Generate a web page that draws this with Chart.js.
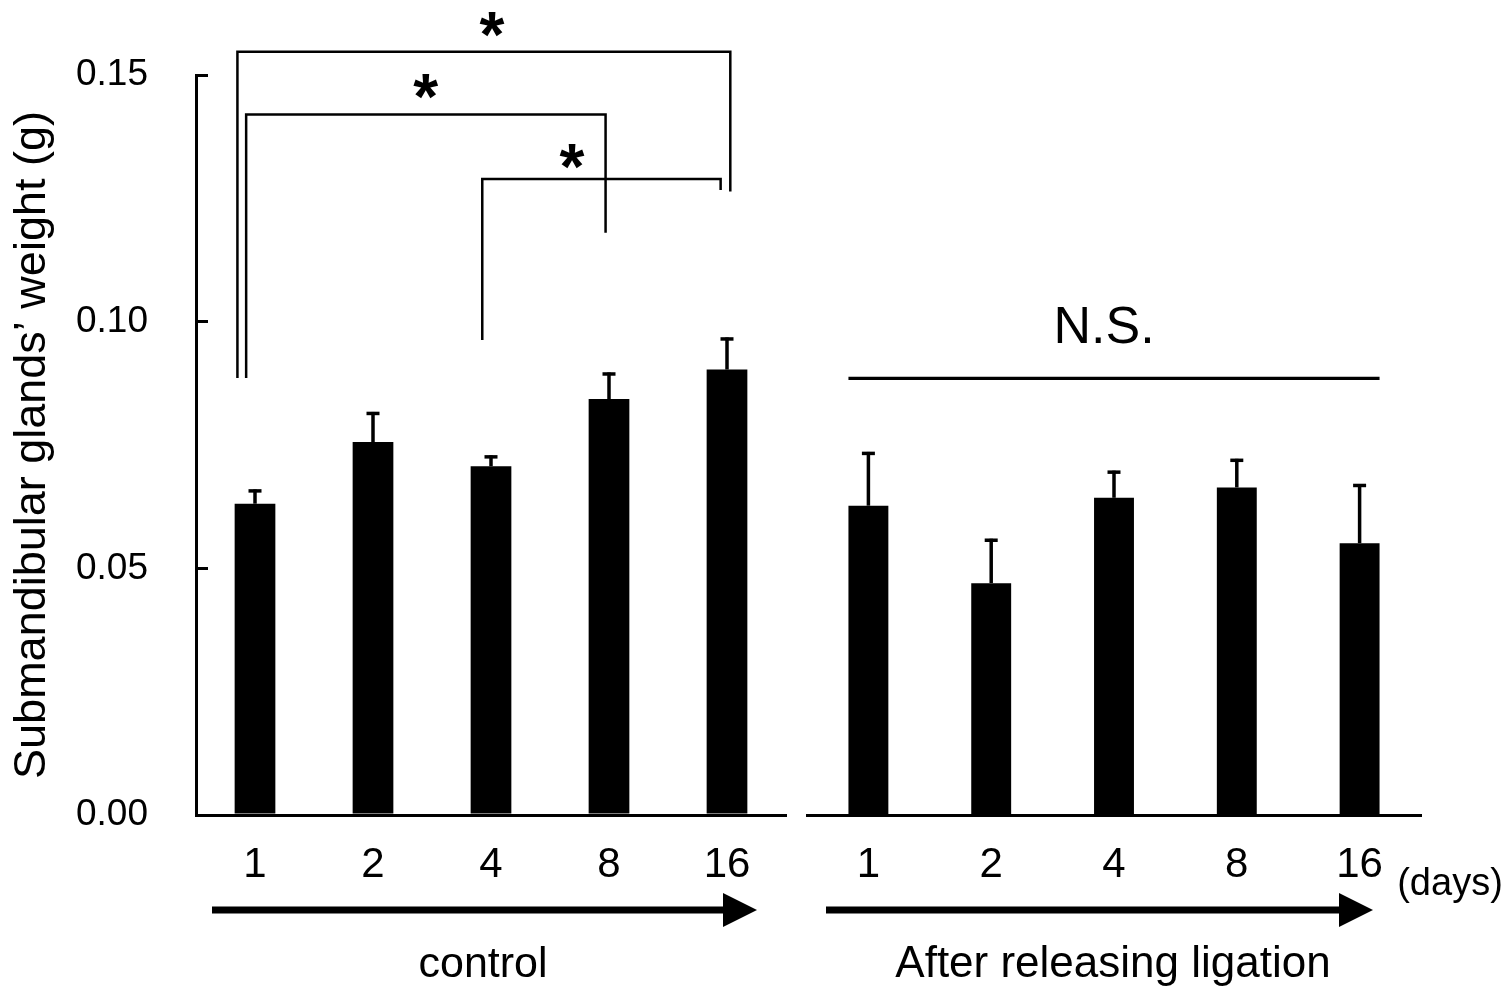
<!DOCTYPE html>
<html>
<head>
<meta charset="utf-8">
<script src="https://cdn.jsdelivr.net/npm/chart.js@4.4.1/dist/chart.umd.min.js"></script>
<style>
  html, body { margin: 0; padding: 0; background: #fff; }
  #wrap { position: relative; width: 1510px; height: 987px; overflow: hidden; }
  #left { position: absolute; left: 0; top: 0; }
  #right { position: absolute; left: 790px; top: 0; }
</style>
</head>
<body>
<div id="wrap">
  <canvas id="left" width="800" height="987"></canvas>
  <canvas id="right" width="720" height="987"></canvas>
</div>
<script>
const days = ['1', '2', '4', '8', '16'];
const controlMean = [0.0631, 0.0756, 0.0707, 0.0843, 0.0903];
const controlSD = [0.0029, 0.0061, 0.0022, 0.0054, 0.0065];
const releaseMean = [0.0627, 0.0470, 0.0643, 0.0664, 0.0551];
const releaseSD = [0.0109, 0.0090, 0.0055, 0.0058, 0.0120];
const yTickLabels = ['0.00', '0.05', '0.10', '0.15'];

// significance brackets on the control group (x in category index, y in grams)
const brackets = [
  { from: -0.149, to: 4.028, top: 0.1547, footFrom: 0.0886, footTo: 0.1264, star: 2.008, starBase: 0.1536 },
  { from: -0.075, to: 2.971, top: 0.1420, footFrom: 0.0886, footTo: 0.1180, star: 1.447, starBase: 0.1410 },
  { from: 1.926, to: 3.946, top: 0.1289, footFrom: 0.0963, footTo: 0.1267, star: 2.686, starBase: 0.1268 }
];
const nsLevel = 0.0885;

const FONT = "'Liberation Sans', Arial, sans-serif";
Chart.defaults.font.family = FONT;
Chart.defaults.color = '#000';

function errorBars(sds) {
  return {
    id: 'errorBars',
    afterDatasetsDraw(chart) {
      const ctx = chart.ctx;
      const y = chart.scales.y;
      const vals = chart.data.datasets[0].data;
      ctx.save();
      ctx.strokeStyle = '#000';
      ctx.lineWidth = 3.5;
      chart.getDatasetMeta(0).data.forEach((bar, i) => {
        const top = y.getPixelForValue(vals[i] + sds[i]);
        ctx.beginPath();
        ctx.moveTo(bar.x, bar.y);
        ctx.lineTo(bar.x, top);
        ctx.stroke();
        ctx.beginPath();
        ctx.moveTo(bar.x - 6.5, top + 1.5);
        ctx.lineTo(bar.x + 6.5, top + 1.5);
        ctx.stroke();
      });
      ctx.restore();
    }
  };
}

function drawArrow(ctx, x0, x1, y) {
  ctx.fillStyle = '#000';
  ctx.fillRect(x0, y - 3.5, x1 - 34 - x0, 7);
  ctx.beginPath();
  ctx.moveTo(x1 - 34, y - 17);
  ctx.lineTo(x1, y);
  ctx.lineTo(x1 - 34, y + 17);
  ctx.closePath();
  ctx.fill();
}

const controlExtras = {
  id: 'controlExtras',
  afterDraw(chart) {
    const ctx = chart.ctx, xs = chart.scales.x, ys = chart.scales.y, area = chart.chartArea;
    ctx.save();
    ctx.strokeStyle = '#000';
    ctx.lineWidth = 2.5;
    ctx.lineJoin = 'miter';
    brackets.forEach(b => {
      const xa = xs.getPixelForValue(b.from), xb = xs.getPixelForValue(b.to);
      ctx.beginPath();
      ctx.moveTo(xa, ys.getPixelForValue(b.footFrom));
      ctx.lineTo(xa, ys.getPixelForValue(b.top));
      ctx.lineTo(xb, ys.getPixelForValue(b.top));
      ctx.lineTo(xb, ys.getPixelForValue(b.footTo));
      ctx.stroke();
      ctx.font = 'bold 64px ' + FONT;
      ctx.fillStyle = '#000';
      ctx.textAlign = 'center';
      ctx.textBaseline = 'alphabetic';
      ctx.fillText('*', xs.getPixelForValue(b.star), ys.getPixelForValue(b.starBase));
    });
    drawArrow(ctx, area.left + 16, area.right - 29, 910);
    ctx.font = '43px ' + FONT;
    ctx.textAlign = 'center';
    ctx.textBaseline = 'alphabetic';
    ctx.fillText('control', area.left + 287, 977);
    ctx.restore();
  }
};

const releaseExtras = {
  id: 'releaseExtras',
  afterDraw(chart) {
    const ctx = chart.ctx, xs = chart.scales.x, ys = chart.scales.y, area = chart.chartArea;
    const bars = chart.getDatasetMeta(0).data;
    const first = bars[0], last = bars[bars.length - 1];
    ctx.save();
    ctx.strokeStyle = '#000';
    ctx.lineWidth = 3.4;
    const yl = ys.getPixelForValue(nsLevel);
    ctx.beginPath();
    ctx.moveTo(first.x - first.width / 2, yl);
    ctx.lineTo(last.x + last.width / 2, yl);
    ctx.stroke();
    ctx.fillStyle = '#000';
    ctx.font = '52px ' + FONT;
    ctx.textAlign = 'center';
    ctx.textBaseline = 'alphabetic';
    ctx.fillText('N.S.', xs.getPixelForValue(1.919), ys.getPixelForValue(0.0957));
    ctx.font = '38px ' + FONT;
    ctx.fillText('(days)', area.right + 29, 895);
    drawArrow(ctx, area.left + 19, area.right - 48, 910);
    ctx.font = '44px ' + FONT;
    ctx.fillText('After releasing ligation', area.left + 306, 977);
    ctx.restore();
  }
};

function xScale() {
  return {
    type: 'category',
    offset: true,
    grid: { display: false },
    border: { display: true, color: '#000', width: 3 },
    ticks: { font: { size: 42 }, color: '#000', padding: 17, maxRotation: 0, autoSkip: false },
    afterFit(scale) { scale.height = 172; }
  };
}

function yScale(show) {
  return {
    display: show,
    min: 0,
    max: 0.15,
    grid: { display: true, drawOnChartArea: false, drawTicks: true, tickLength: -12, color: '#000', lineWidth: 3 },
    border: { display: true, color: '#000', width: 3 },
    ticks: {
      stepSize: 0.05,
      padding: 60,
      font: { size: 37 },
      color: '#000',
      callback: (v, i) => yTickLabels[i]
    },
    title: {
      display: true,
      text: 'Submandibular glands\u2019 weight (g)',
      font: { size: 45 },
      color: '#000',
      padding: { top: 6, bottom: 0 }
    },
    afterFit(scale) {
      scale.width = show ? 196 : 0;
      scale.paddingTop = 0;
      scale.paddingBottom = 0;
    }
  };
}

function makeChart(id, means, sds, barPct, padding, showY, extras) {
  return new Chart(document.getElementById(id), {
    type: 'bar',
    data: {
      labels: days,
      datasets: [{
        data: means,
        backgroundColor: '#000',
        borderWidth: 0,
        barPercentage: barPct,
        categoryPercentage: 1
      }]
    },
    options: {
      responsive: false,
      animation: false,
      layout: { padding },
      plugins: { legend: { display: false }, tooltip: { enabled: false } },
      scales: { x: xScale(), y: yScale(showY) }
    },
    plugins: [errorBars(sds), extras]
  });
}

makeChart('left', controlMean, controlSD, 0.345, { top: 75, right: 14, left: 0, bottom: 0 }, true, controlExtras);
makeChart('right', releaseMean, releaseSD, 0.325, { top: 75, right: 89, left: 17, bottom: 0 }, false, releaseExtras);
</script>
</body>
</html>
